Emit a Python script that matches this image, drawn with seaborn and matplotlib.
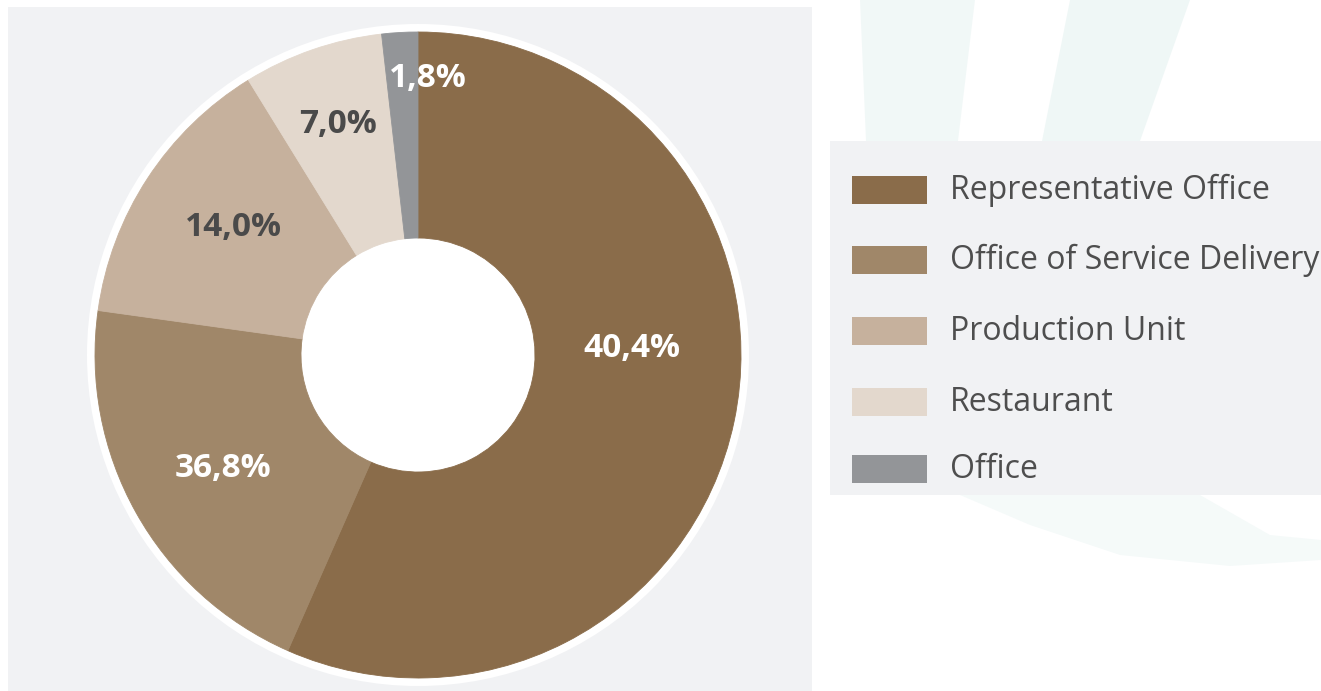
import numpy as np
import matplotlib
matplotlib.use("Agg")
import matplotlib.pyplot as plt
from matplotlib.patches import Rectangle, Circle, Polygon
import seaborn as sns

# ---- data ----
categories = ["Representative Office", "Office of Service Delivery",
              "Production Unit", "Restaurant", "Office"]
slice_sizes = [56.6, 20.6, 14.0, 7.0, 1.8]          # drawn wedge sizes (%)
slice_labels = ["40,4%", "36,8%", "14,0%", "7,0%", "1,8%"]  # printed labels
colors_hex = ["#8a6c4a", "#a08769", "#c6b19d", "#e3d8cd", "#939598"]

sns.set_theme(style="white")
plt.rcParams["font.family"] = ["Open Sans", "DejaVu Sans"]

W, H = 1321, 691
fig = plt.figure(figsize=(W / 100, H / 100), dpi=100)
fig.patch.set_facecolor("white")
ax = fig.add_axes([0, 0, 1, 1])

def Y(y_img):
    return H - y_img

# faint decorative swooshes in the background
sw = "#e9f4f3"
ax.add_patch(Polygon([(860, Y(0)), (975, Y(0)), (958, Y(141)), (866, Y(141))],
                     closed=True, fc=sw, ec="none", alpha=0.6, zorder=0))
ax.add_patch(Polygon([(1070, Y(0)), (1190, Y(0)), (1140, Y(141)), (1042, Y(141))],
                     closed=True, fc=sw, ec="none", alpha=0.7, zorder=0))
ax.add_patch(Polygon([(960, Y(495)), (1200, Y(495)), (1270, Y(535)), (1321, Y(540)),
                      (1321, Y(560)), (1230, Y(566)), (1120, Y(555)), (1030, Y(525))],
                     closed=True, fc=sw, ec="none", alpha=0.45, zorder=0))

# left panel background
panel = "#f1f2f4"
ax.add_patch(Rectangle((8, 0), 812 - 8, Y(7), fc=panel, ec="none", zorder=1))

# donut
cx, cy, R, r_hole = 418, Y(355), 323, 117
ax.add_patch(Circle((cx, cy), R + 8, fc="white", ec="none", zorder=2))
palette = sns.color_palette(colors_hex)
wedges, _ = ax.pie(slice_sizes, colors=palette, startangle=90, counterclock=False,
                   center=(cx, cy), radius=R, frame=True,
                   wedgeprops=dict(width=R - r_hole, linewidth=0.6))
for w in wedges:
    w.set_zorder(3)
    w.set_edgecolor(w.get_facecolor())

# label placement (layout tweaks relative to each wedge's middle)
lab_r = [0.663, 0.70, 0.696, 0.757, 0.857]
lab_da = [13.5, 1.0, -1.5, 0.1, -5.2]
lab_col = ["white", "white", "#4a4a4a", "#4a4a4a", "white"]
for w, txt, rf, da, c in zip(wedges, slice_labels, lab_r, lab_da, lab_col):
    mid = np.deg2rad((w.theta1 + w.theta2) / 2 + da)
    ax.text(cx + rf * R * np.cos(mid), cy + rf * R * np.sin(mid), txt,
            ha="center", va="center", fontsize=24, fontweight="bold",
            color=c, zorder=5)

# legend panel
ax.add_patch(Rectangle((830, Y(495)), W - 830, 495 - 141, fc=panel, ec="none", zorder=1))
row_y = [190, 260, 331, 402, 469]
for name, col, yy in zip(categories, palette, row_y):
    ax.add_patch(Rectangle((852, Y(yy) - 14), 75, 28, fc=col, ec="none", zorder=3))
    ax.text(950, Y(yy), name, ha="left", va="center", fontsize=23,
            color="#4e4e4e", zorder=4)

ax.set_xlim(0, W)
ax.set_ylim(0, H)
ax.set_aspect("equal")
ax.axis("off")

fig.savefig("out.png", dpi=100, facecolor=fig.get_facecolor())
